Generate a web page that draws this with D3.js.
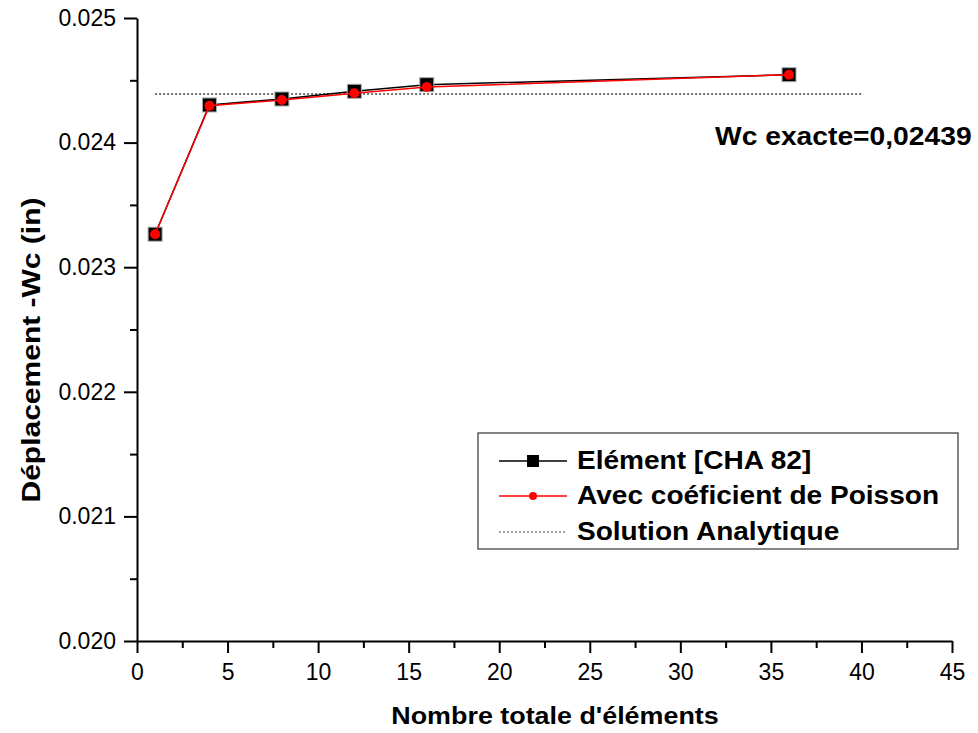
<!DOCTYPE html>
<html>
<head>
<meta charset="utf-8">
<script src="https://cdn.jsdelivr.net/npm/d3@7"></script>
<style>
  body { margin: 0; background: #fff; }
  text { font-family: "Liberation Sans", Arial, sans-serif; }
</style>
</head>
<body>
<svg id="chart"></svg>
<script>
const width = 978, height = 733;
const svg = d3.select("#chart").attr("width", width).attr("height", height);

// data
const nbElements = [1, 4, 8, 12, 16, 36];
const wcCha82 = [0.023265, 0.024302, 0.024350, 0.024412, 0.024465, 0.024545];
const wcPoisson = [0.023265, 0.024296, 0.024342, 0.024396, 0.024446, 0.024545];
const analyticX = [1, 40];
const wcExact = 0.02439;
const xTicks = [0, 5, 10, 15, 20, 25, 30, 35, 40, 45];
const yTicks = [0.020, 0.021, 0.022, 0.023, 0.024, 0.025];

const x = d3.scaleLinear().domain([0, 45]).range([137, 952]);
const y = d3.scaleLinear().domain([0.020, 0.025]).range([641, 18]);

// axes
const xAxis = svg.append("g").attr("transform", `translate(0,${y(0.020)})`)
    .call(d3.axisBottom(x).tickValues(xTicks).tickFormat(d3.format("d")).tickSize(12).tickPadding(11).tickSizeOuter(0));
const xMinor = svg.append("g").attr("transform", `translate(0,${y(0.020)})`)
    .call(d3.axisBottom(x).tickValues(d3.range(2.5, 45, 5)).tickFormat("").tickSize(7).tickSizeOuter(0));
const yAxis = svg.append("g").attr("transform", `translate(${x(0)},0)`)
    .call(d3.axisLeft(y).tickValues(yTicks).tickFormat(d3.format(".3f")).tickSize(13).tickPadding(8).tickSizeOuter(0));
const yMinor = svg.append("g").attr("transform", `translate(${x(0)},0)`)
    .call(d3.axisLeft(y).tickValues(d3.range(0.0205, 0.025, 0.001)).tickFormat("").tickSize(7).tickSizeOuter(0));

[xAxis, xMinor, yAxis, yMinor].forEach(g => {
    g.selectAll("path, line").attr("stroke", "#000").attr("stroke-width", 2);
});
xMinor.select(".domain").remove();
yMinor.select(".domain").remove();
xAxis.selectAll("text").attr("font-size", 23).attr("fill", "#000");
yAxis.selectAll("text").attr("font-size", 23).attr("fill", "#000");

// bold labels are a bit wider than Liberation Sans Bold, stretch them horizontally
function boldText(g, tx, ty, str, size, sx, rot, anchor) {
    return g.append("text")
        .attr("transform", `translate(${tx},${ty}) rotate(${rot || 0}) scale(${sx},1)`)
        .attr("text-anchor", anchor || "start")
        .attr("font-size", size).attr("font-weight", "bold")
        .text(str);
}

// axis titles
boldText(svg, 555, 724, "Nombre totale d'éléments", 24, 1.12, 0, "middle");
boldText(svg, 40, 350, "Déplacement -Wc (in)", 25, 1.2, -90, "middle");

// analytic solution
svg.append("line")
    .attr("x1", x(analyticX[0])).attr("x2", x(analyticX[1]))
    .attr("y1", y(wcExact)).attr("y2", y(wcExact))
    .attr("stroke", "#444").attr("stroke-width", 1.3)
    .attr("stroke-dasharray", "2,2");

const line = d3.line().x(d => x(d[0])).y(d => y(d[1]));
const cha = nbElements.map((n, i) => [n, wcCha82[i]]);
const poi = nbElements.map((n, i) => [n, wcPoisson[i]]);

svg.append("path").datum(cha).attr("d", line)
    .attr("fill", "none").attr("stroke", "#000").attr("stroke-width", 1.5);
svg.selectAll("rect.cha").data(cha).enter().append("rect")
    .attr("class", "cha")
    .attr("x", d => x(d[0]) - 7).attr("y", d => y(d[1]) - 7)
    .attr("width", 14).attr("height", 14)
    .attr("fill", "#000").attr("stroke", "#aaa").attr("stroke-width", 1);

svg.append("path").datum(poi).attr("d", line)
    .attr("fill", "none").attr("stroke", "#f00").attr("stroke-width", 1.5);
svg.selectAll("circle.poi").data(poi).enter().append("circle")
    .attr("class", "poi")
    .attr("cx", d => x(d[0])).attr("cy", d => y(d[1]))
    .attr("r", 5).attr("fill", "#f00");

// annotation
boldText(svg, 715, 145, "Wc exacte=0,02439", 25, 1.13);

// legend
const legend = svg.append("g");
legend.append("rect")
    .attr("x", 478).attr("y", 433).attr("width", 480).attr("height", 116)
    .attr("fill", "#fff").attr("stroke", "#444").attr("stroke-width", 1.3);

const items = [
    { label: "Elément [CHA 82]", stroke: "#000", marker: "square", dash: null },
    { label: "Avec coéficient de Poisson", stroke: "#f00", marker: "circle", dash: null },
    { label: "Solution Analytique", stroke: "#444", marker: null, dash: "2,2" }
];
const rowY = [461, 496, 532];
items.forEach((it, i) => {
    const yy = rowY[i];
    legend.append("line")
        .attr("x1", 499).attr("x2", 567).attr("y1", yy).attr("y2", yy)
        .attr("stroke", it.stroke).attr("stroke-width", it.dash ? 1 : 1.3)
        .attr("stroke-dasharray", it.dash);
    if (it.marker === "square") {
        legend.append("rect").attr("x", 527).attr("y", yy - 6)
            .attr("width", 12).attr("height", 12).attr("fill", "#000");
    } else if (it.marker === "circle") {
        legend.append("circle").attr("cx", 533).attr("cy", yy).attr("r", 4).attr("fill", "#f00");
    }
    boldText(legend, 577, yy + 8, it.label, 25.5, 1.1);
});
</script>
</body>
</html>
